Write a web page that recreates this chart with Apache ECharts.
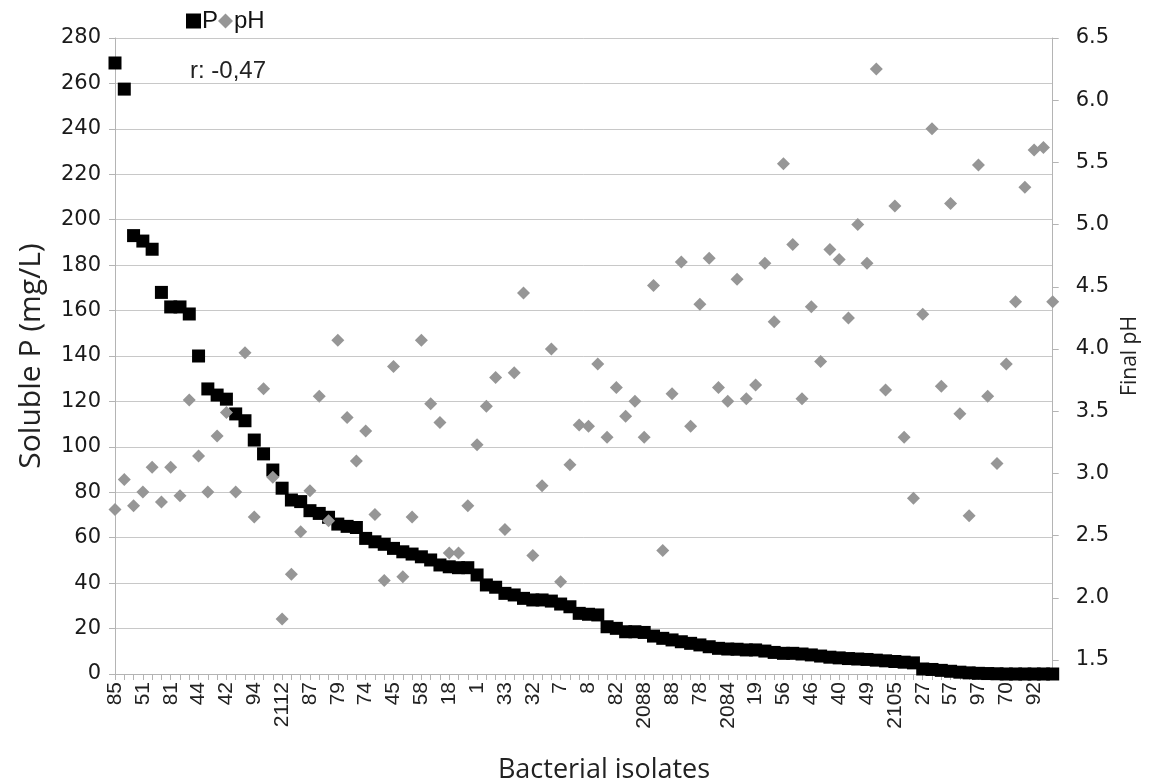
<!DOCTYPE html>
<html>
<head>
<meta charset="utf-8">
<title>Soluble P and final pH</title>
<script src="https://cdn.jsdelivr.net/npm/echarts@6/dist/echarts.min.js"></script>
<style>
  html, body { margin: 0; padding: 0; background: #fff; }
  #chart { width: 1149px; height: 783px; }
</style>
</head>
<body>
<div id="chart"></div>
<script>
// isolates shown on the x axis (every third category is labelled)
const tickLabels = ['85', '51', '81', '44', '42', '94', '2112', '87', '79', '74', '45', '58',
  '18', '1', '33', '32', '7', '8', '82', '2088', '88', '78', '2084', '19', '56', '46', '40',
  '49', '2105', '27', '57', '97', '70', '92']

// soluble P (mg/L), sorted high to low
const solubleP = [
  269, 257.5, 193, 190.6, 187, 168, 161.6, 161.6, 158.5, 140,
  125.5, 122.8, 121, 114.5, 111.5, 103, 96.9, 89.8, 81.8, 76.6,
  75.9, 71.9, 70.7, 69, 66, 65, 64.5, 59.7, 58.2, 57.1,
  55.3, 53.8, 52.8, 51.6, 50.2, 48, 47.2, 46.8, 46.8, 43.6,
  39.2, 38.2, 35.5, 34.8, 33.3, 32.6, 32.6, 32.1, 30.8, 29.6,
  26.7, 26.3, 26, 20.8, 20.1, 18.6, 18.6, 18.3, 16.7, 15.7,
  15, 14.2, 13.5, 12.8, 12, 11.3, 11, 10.9, 10.6, 10.6,
  10.1, 9.5, 9.1, 9.1, 8.8, 8.4, 7.9, 7.4, 7.1, 6.8,
  6.6, 6.4, 6.1, 5.8, 5.5, 5.2, 4.9, 2.2, 2.0, 1.6,
  1.2, 0.8, 0.5, 0.3, 0.2, 0.1, 0, 0, 0, 0,
  0, 0
]

// final pH of the same isolates
const finalPH = [
  2.71, 2.95, 2.74, 2.85, 3.05, 2.77, 3.05, 2.82, 3.59, 3.14,
  2.85, 3.30, 3.49, 2.85, 3.97, 2.65, 3.68, 2.97, 1.83, 2.19,
  2.53, 2.86, 3.62, 2.62, 4.07, 3.45, 3.10, 3.34, 2.67, 2.14,
  3.86, 2.17, 2.65, 4.07, 3.56, 3.41, 2.36, 2.36, 2.74, 3.23,
  3.54, 3.77, 2.55, 3.81, 4.45, 2.34, 2.90, 4.00, 2.13, 3.07,
  3.39, 3.38, 3.88, 3.29, 3.69, 3.46, 3.58, 3.29, 4.51, 2.38,
  3.64, 4.70, 3.38, 4.36, 4.73, 3.69, 3.58, 4.56, 3.60, 3.71,
  4.69, 4.22, 5.49, 4.84, 3.60, 4.34, 3.90, 4.80, 4.72, 4.25,
  5.00, 4.69, 6.25, 3.67, 5.15, 3.29, 2.80, 4.28, 5.77, 3.70,
  5.17, 3.48, 2.66, 5.48, 3.62, 3.08, 3.88, 4.38, 5.30, 5.60,
  5.62, 4.38
]

const phTicks = [1.5, 2.0, 2.5, 3.0, 3.5, 4.0, 4.5, 5.0, 5.5, 6.0, 6.5]

const categories = solubleP.map((v, i) => (i % 3 === 0 ? tickLabels[i / 3] : ''))

const axisGrey = '#b4b4b4'
const labelFont = 'DejaVu Sans'

const chart = echarts.init(document.getElementById('chart'))

chart.setOption({
  animation: false,
  backgroundColor: '#fff',
  grid: {
    left: 115,
    right: 91,
    top: 38,
    bottom: 109
  },
  legend: {
    left: 181,
    top: 4,
    itemWidth: 15,
    itemHeight: 15,
    itemGap: 0,
    textStyle: { fontFamily: 'Liberation Sans', fontSize: 24, color: '#111', padding: [0, 0, 0, -4] },
    data: [
      { name: 'P', icon: 'rect' },
      { name: 'pH', icon: 'diamond' }
    ]
  },
  graphic: [{
    type: 'text',
    left: 190,
    top: 59,
    style: { text: 'r: -0,47', fontFamily: 'Liberation Sans', fontSize: 24, fill: '#222' }
  }, {
    // x-axis title sits a little right of the plot centre in the original
    type: 'text',
    x: 604,
    y: 770,
    style: {
      text: 'Bacterial isolates',
      fontFamily: 'Open Sans',
      fontSize: 27,
      fill: '#222',
      align: 'center',
      verticalAlign: 'middle'
    }
  }],
  xAxis: {
    type: 'category',
    data: categories,
    boundaryGap: false,
    axisLine: { lineStyle: { color: axisGrey } },
    axisTick: { interval: 0, length: 6, lineStyle: { color: axisGrey } },
    axisLabel: {
      interval: 2,
      rotate: 90,
      fontFamily: 'Liberation Sans',
      fontSize: 21,
      color: '#222',
      margin: 8
    },
    splitLine: { show: false }
  },
  yAxis: [{
    type: 'value',
    min: 0,
    max: 280,
    interval: 20,
    name: 'Soluble P (mg/L)',
    nameLocation: 'middle',
    nameGap: 69,
    nameTextStyle: { fontFamily: 'Open Sans', fontSize: 30, color: '#222' },
    axisLine: { show: true, lineStyle: { color: axisGrey } },
    axisTick: { show: true, length: 6, lineStyle: { color: axisGrey } },
    axisLabel: { fontFamily: labelFont, fontSize: 21, color: '#1a1a1a', margin: 14 },
    splitLine: { lineStyle: { color: '#c8c8c8', width: 1 } }
  }, {
    type: 'value',
    position: 'right',
    min: 1.3875,
    max: 6.5,
    name: 'Final pH',
    nameLocation: 'middle',
    nameGap: 67,
    nameTextStyle: { fontFamily: 'Open Sans', fontSize: 21, color: '#222' },
    axisLine: { show: true, lineStyle: { color: axisGrey } },
    axisTick: { show: true, length: 6, customValues: phTicks, lineStyle: { color: axisGrey } },
    axisLabel: {
      customValues: phTicks,
      fontFamily: labelFont,
      fontSize: 21,
      color: '#1a1a1a',
      margin: 23,
      formatter: v => v.toFixed(1)
    },
    splitLine: { show: false }
  }],
  series: [{
    name: 'P',
    type: 'scatter',
    yAxisIndex: 0,
    symbol: 'rect',
    symbolSize: 13,
    itemStyle: { color: '#000', opacity: 1 },
    data: solubleP
  }, {
    name: 'pH',
    type: 'scatter',
    yAxisIndex: 1,
    symbol: 'diamond',
    symbolSize: 13,
    itemStyle: { color: '#969696', opacity: 1 },
    data: finalPH
  }]
})
</script>
</body>
</html>
